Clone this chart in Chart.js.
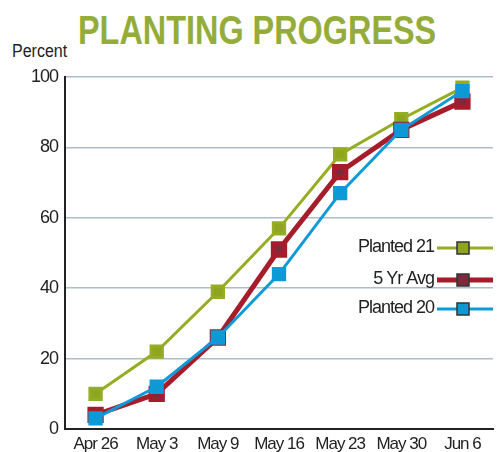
<!DOCTYPE html>
<html>
<head>
<meta charset="utf-8">
<script src="https://cdn.jsdelivr.net/npm/chart.js@4/dist/chart.umd.min.js"></script>
<style>
  body { margin: 0; background: #fff; overflow: hidden; width: 498px; height: 452px; position: relative; font-family: 'Liberation Sans', Arial, sans-serif; }
  #title { position: absolute; left: 78px; top: 10px; font-size: 40px; line-height: 40px; font-weight: bold; color: #94ad3a; white-space: nowrap; transform: scaleX(0.81); transform-origin: 0 0; }
  #unit { position: absolute; left: 12px; top: 42px; font-size: 18px; line-height: 18px; color: #222; white-space: nowrap; transform: scaleX(0.89); transform-origin: 0 0; }
  canvas { position: absolute; left: 0; top: 0; }
</style>
</head>
<body>
<div id="title">PLANTING PROGRESS</div>
<div id="unit">Percent</div>
<canvas id="chart" width="506" height="452"></canvas>
<script>
// planting progress, percent of crop in the ground by week
const weeks = ['Apr 26', 'May 3', 'May 9', 'May 16', 'May 23', 'May 30', 'Jun 6'];
const planted21 = [10, 22, 39, 57, 78, 88, 97];
const fiveYrAvg = [4, 10, 26, 51, 73, 85, 93];
const planted20 = [3, 12, 26, 44, 67, 85, 96];
const yTicks = [0, 20, 40, 60, 80, 100];

const FONT = "'Liberation Sans', Arial, sans-serif";

// no narrow font installed, so squeeze the canvas text a bit
const tightText = {
    id: 'tightText',
    beforeLayout(chart) { chart.ctx.letterSpacing = '-1px'; },
    beforeDraw(chart) { chart.ctx.letterSpacing = '-1px'; }
};

// legend sits inside the plot, labels on the left of the line sample
const sideLegend = {
    id: 'sideLegend',
    afterDatasetsDraw(chart) {
        const ctx = chart.ctx;
        const rows = [248, 280, 309];
        ctx.save();
        ctx.letterSpacing = '-1px';
        chart.data.datasets.forEach((ds, i) => {
            const y = rows[i];
            ctx.font = '18px ' + FONT;
            ctx.fillStyle = '#222';
            ctx.textAlign = 'right';
            ctx.textBaseline = 'middle';
            ctx.fillText(ds.label, 434, y - 1);

            ctx.strokeStyle = ds.borderColor;
            ctx.lineWidth = ds.borderWidth;
            ctx.beginPath();
            ctx.moveTo(437, y);
            ctx.lineTo(493, y);
            ctx.stroke();

            ctx.fillStyle = ds.pointBackgroundColor;
            ctx.strokeStyle = '#333';
            ctx.lineWidth = 1.5;
            ctx.fillRect(457, y - 6, 12, 12);
            ctx.strokeRect(457, y - 6, 12, 12);
        });
        ctx.restore();
    }
};

new Chart(document.getElementById('chart'), {
    type: 'line',
    data: {
        labels: weeks,
        datasets: [
            {
                label: 'Planted 21',
                data: planted21,
                borderColor: '#95ad22',
                borderWidth: 3,
                pointBackgroundColor: '#8fa520',
                order: 3
            },
            {
                label: '5 Yr Avg',
                data: fiveYrAvg,
                borderColor: '#a51d2b',
                borderWidth: 5,
                pointBackgroundColor: '#7b2b3c',
                order: 2
            },
            {
                label: 'Planted 20',
                data: planted20,
                borderColor: '#0c9bd8',
                borderWidth: 3,
                pointBackgroundColor: '#0e98d6',
                order: 1
            }
        ]
    },
    options: {
        responsive: false,
        animation: false,
        layout: { padding: { top: 77, right: 0, bottom: 0, left: 0 } },
        elements: {
            line: { tension: 0 },
            point: { pointStyle: 'rect', radius: 8, borderColor: '#333', borderWidth: 1.5 }
        },
        plugins: {
            legend: { display: false },
            tooltip: { enabled: false }
        },
        scales: {
            x: {
                offset: true,
                grid: { display: false, drawTicks: false },
                border: { color: '#222', width: 2 },
                ticks: { color: '#222', font: { family: FONT, size: 17 }, padding: 5, maxRotation: 0, autoSkip: false },
                afterFit(scale) { scale.height = 23; }
            },
            y: {
                min: 0,
                max: 100,
                afterBuildTicks(scale) { scale.ticks = yTicks.map(v => ({ value: v })); },
                grid: { color: '#aebdc7', lineWidth: 1.5, drawTicks: false },
                border: { color: '#222', width: 2 },
                ticks: { color: '#222', font: { family: FONT, size: 18 }, padding: 7 },
                afterFit(scale) { scale.width = 65; }
            }
        }
    },
    plugins: [tightText, sideLegend]
});
</script>
</body>
</html>
